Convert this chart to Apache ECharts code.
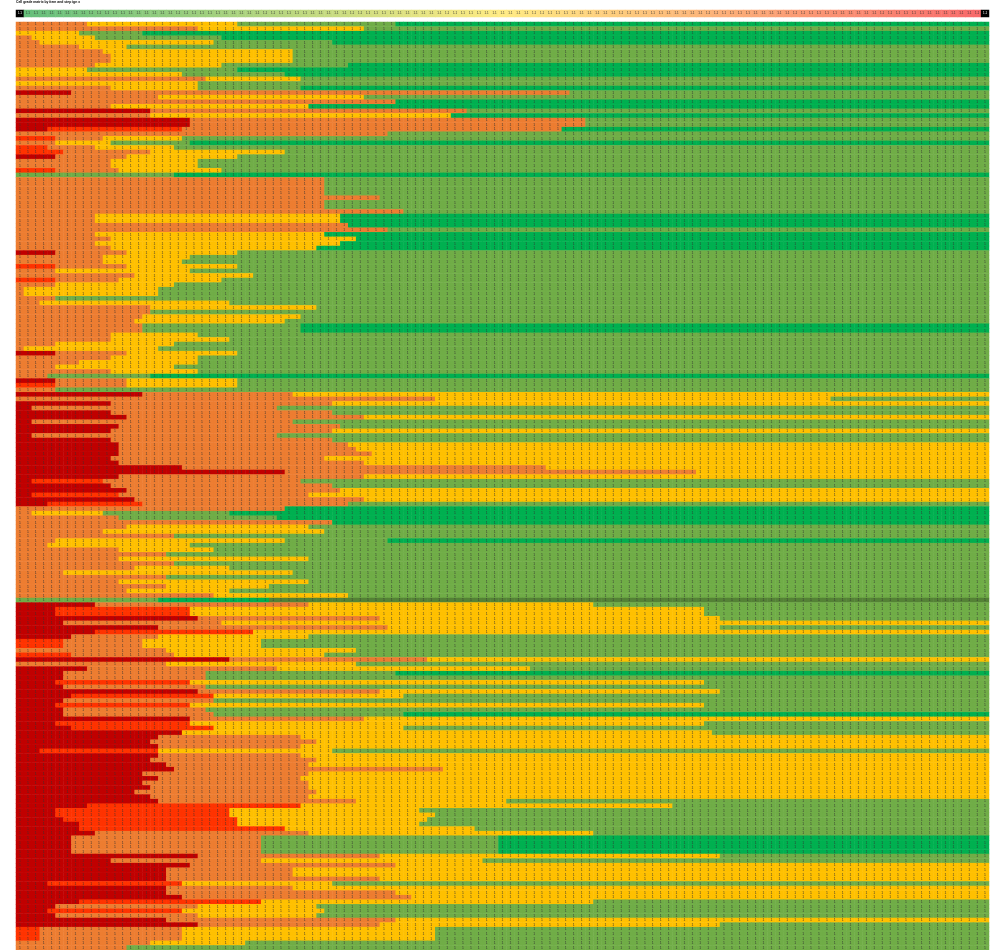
<!DOCTYPE html>
<html><head><meta charset="utf-8">
<style>html,body{margin:0;padding:0;background:#fff}#c{width:995px;height:950px}</style>
<script src="https://cdn.jsdelivr.net/npm/echarts@6/dist/echarts.min.js"></script>
</head><body><div id="c"></div>
<script>
const titleText = "Cell grade matrix by item and step ign x";
const gradeColors = {D:"#C00000",R:"#FF3300",O:"#ED7D31",Y:"#FFC000",G:"#70AD47",E:"#00B050",X:"#548235"};
const gradeOrder = ["D","R","O","Y","G","E","X"];
const columnCount = 123;
const headerValues = [0,1,2,3,4,5,6,7,8,9,10,11,12,13,14,15,16,17,18,19,20,21,22,23,24,25,26,27,28,29,30,31,32,33,34,35,36,37,38,39,40,41,42,43,44,45,46,47,48,49,50,51,52,53,54,55,56,57,58,59,60,61,62,63,64,65,66,67,68,69,70,71,72,73,74,75,76,77,78,79,80,81,82,83,84,85,86,87,88,89,90,91,92,93,94,95,96,97,98,99,100,101,102,103,104,105,106,107,108,109,110,111,112,113,114,115,116,117,118,119,120,121,122];
// Each row: grade letter + column where that grade ends (last run goes to the end).
const rowsA = ["O9 Y28 G48 E","O23 Y44 G","Y8 G16 E","O2 Y10 G26 E","O3 Y25 G40 E","O8 Y14 G","O11 Y35 G","O12 Y35 G","O12 Y35 G","O10 Y26 G42 E","Y9 G28 E","Y21 G34 E","O24 Y36 G","Y23 G","O12 Y23 G36 E","D7 O70 G","O18 Y44 G","O48 E","O12 Y37 E","D17 O57 G","O17 Y55 E","D22 O72 G","D22 O72 G","D4 R21 O69 E","O47 G","R5 O11 Y21 G","O5 Y12 G22 E","R4 O10 Y20 G","R6 O17 Y34 G","D5 O14 Y28 G","O12 Y23 G","O12 Y23 G","R5 O13 Y26 G","G20 E"];
const rowsB = ["O39 G","O39 G","O39 G","O39 G","O46 G","O39 G","O39 G","O49 G","O10 Y41 E","O10 Y41 E","O42 E","O47 G","O10 Y39 E","O12 Y43 E","O10 Y41 E","O12 Y38 E","D5 O14 Y28 G","O11 Y22 G","O11 Y21 G","R5 O14 Y28 G","O5 Y22 G","O15 Y30 G","R5 O13 Y26 G","O5 Y20 G","O1 Y18 G","O1 Y18 G","O5 G","O3 Y27 G","O17 Y38 G","O17 G","O16 Y36 G","O15 Y34 G","O16 G36 E","O16 G36 E","O12 Y23 G","O12 Y27 G","O5 Y20 G","O1 Y18 G","D5 O14 Y28 G","O12 Y23 G","O8 Y23 G","O5 Y20 G","O12 Y23 G","O4 G17 E","D5 O14 Y28 G","R5 O14 Y28 G","O5 G"];
const rowsC = ["D16 O35 Y","O53 Y103 G","D12 O40 Y","D2 O33 G","D12 O40 G","D14 O44 Y","D2 O35 G","D13 O41 G","D12 O40 Y","D2 O33 G","D12 O40 G","D13 O42 Y","D13 O43 Y","D13 O45 Y","D12 O39 Y","D13 O44 Y","D21 O67 Y","D34 O86 Y","D13 O44 Y","D2 R11 O36 G","D12 O40 G","D14 O41 Y","D2 R13 O37 Y","D15 O44 Y","D4 R16 O42 G","O34 E","O2 Y11 G27 E","O13 G33 E","O40 E","O14 Y37 G","O11 Y39 G","O20 G","O5 Y34 G47 E","O4 Y22 G","O13 Y25 G","O19 G","O13 Y37 G","O20 G","O15 Y27 G","O6 Y35 G","O19 G","O13 Y37 G","O19 Y32 G","O14 Y27 G","O25 Y42 G","G18 E32 X"];
const rowsD = ["D10 O37 Y73 G","D5 R22 Y87 G","D5 R22 Y87 G","D23 O46 Y89 G","D6 O26 Y","D18 O47 Y89 G","D10 R30 Y","D7 O18 Y37 G","R6 O16 Y31 G","R6 O16 Y31 G","O19 Y43 G","R7 O20 Y39 G","D27 O52 Y","O19 Y43 G","D9 O33 Y65 G","D6 O24 G48 E","D6 O24 G","D5 R22 Y87 G","D6 O24 G","D23 O46 Y89 G","D7 R25 Y49 G","D6 O25 G","D5 R22 Y87 G","D6 O24 G","D6 O25 G49 E","D22 O44 Y","D5 R22 Y87 G","D7 R25 Y49 G","D21 Y88 G","D18 O36 Y","D17 O38 Y","D18 O36 Y","D3 R18 Y40 G","D18 O36 Y","D17 O38 Y","D19 O37 Y","D20 O54 Y"];
const rowsE = ["D16 O37 Y","D18 O36 Y","D16 O37 Y","D17 O37 Y","D15 O38 Y","D17 O37 Y","D18 O43 Y62 G","D9 R36 Y83 G","D5 R27 Y51 G","D5 R27 Y53 G","D6 R28 Y52 G","D8 R28 Y51 G","D8 R34 Y58 G","D10 O37 Y73 G","D7 O31 G61 E","D7 O31 G61 E","D7 O31 G61 E","D7 O31 G61 E","D23 O46 Y89 G","D12 O31 Y59 G","D22 O48 Y","D19 O35 Y","D19 O35 Y","D19 O46 Y","D4 R21 Y40 G","D19 O35 Y","D19 O48 Y","D21 O50 Y","D8 R31 Y73 G","D5 O23 Y38 G","D4 R21 Y39 G","D5 O23 Y38 G","D19 O48 Y","D23 O46 Y89 G","R3 O21 Y53 G","R3 O21 Y53 G","R3 O21 Y53 G","O17 Y29 G","O14 G"];
const rows = rowsA.concat(rowsB, rowsC, rowsD, rowsE);

const colCats = headerValues.map(String);
const rowCats = rows.map((_, i) => String(i));
const mainData = [];
rows.forEach((spec, r) => {
  let c = 0;
  spec.split(" ").forEach(run => {
    const g = gradeOrder.indexOf(run[0]);
    const end = run.length > 1 ? +run.slice(1) : columnCount;
    for (; c < end; c++) mainData.push([c, r, g]);
  });
});
const headerData = headerValues.map((v, i) => ({value: [i, 0, v], label: {color: (i === 0 || i === columnCount - 1) ? "#fff" : "#333"}}));

const chart = echarts.init(document.getElementById("c"), null, {renderer: "canvas"});
const FONT = "'Liberation Sans', sans-serif";
chart.setOption({
  animation: false,
  backgroundColor: "#fff",
  title: {text: titleText, left: 16, top: 1, padding: 0, textStyle: {fontSize: 3.4, fontWeight: "bold", color: "#000", fontFamily: FONT}},
  tooltip: {show: false},
  grid: [
    {left: 16, top: 10, width: 973, height: 7},
    {left: 16, top: 22, width: 973, height: rows.length * 4.6}
  ],
  xAxis: [
    {type: "category", gridIndex: 0, data: colCats, show: false},
    {type: "category", gridIndex: 1, data: colCats, show: false}
  ],
  yAxis: [
    {type: "category", gridIndex: 0, data: ["h"], show: false},
    {type: "category", gridIndex: 1, data: rowCats, inverse: true, show: false}
  ],
  visualMap: [
    {type: "continuous", show: false, seriesIndex: 0, dimension: 2, min: 0, max: 122, range: [1, 121],
     inRange: {color: ["#63BE7B", "#FFEB84", "#F8696B"]}, outOfRange: {color: "#000"}},
    {type: "piecewise", show: false, seriesIndex: 1, dimension: 2,
     pieces: gradeOrder.map((g, i) => ({value: i, color: gradeColors[g]}))}
  ],
  series: [
    {type: "heatmap", xAxisIndex: 0, yAxisIndex: 0, data: headerData, progressive: 0,
     itemStyle: {borderWidth: 0},
     label: {show: true, fontSize: 3, fontFamily: FONT, formatter: () => "1.1"}},
    {type: "heatmap", xAxisIndex: 1, yAxisIndex: 1, data: mainData, progressive: 0,
     itemStyle: {borderWidth: 0},
     label: {show: true, fontSize: 3.4, color: "#333", fontFamily: FONT, formatter: () => "1"}}
  ]
});
</script></body></html>
